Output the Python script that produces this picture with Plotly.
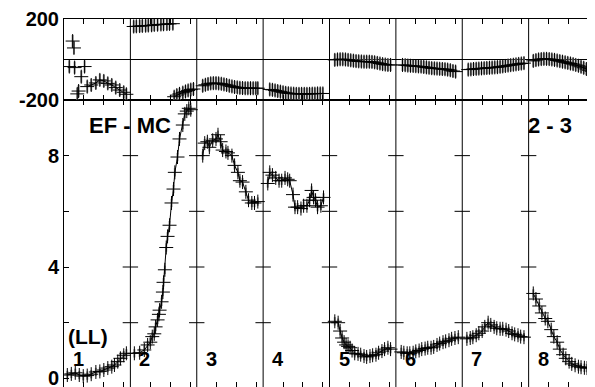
import plotly.graph_objects as go

# etiquetas de los bins y valores de los ejes
bin_labels = ['1', '2', '3', '4', '5', '6', '7', '8']
mag_ticks = [0, 2, 4, 6, 8]
mag_ticktext = ['0', '', '4', '', '8']
phase_ticks = [-200, 200]
phase_ticktext = ['-200', '200']
mass_ticks = [0.3, 0.6, 0.9]

# magnitud (panel inferior), posicion dentro de cada bin
mag_x_1 = [0.05, 0.11, 0.17, 0.23, 0.29, 0.35, 0.41, 0.48, 0.54, 0.60, 0.66, 0.72, 0.76, 0.81, 0.85, 0.90, 0.94]
mag_1 = [0.12, 0.16, 0.20, 0.12, 0.08, 0.10, 0.15, 0.23, 0.25, 0.30, 0.37, 0.42, 0.48, 0.60, 0.72, 0.83, 0.90]
mag_x_2 = [0.06, 0.14, 0.21, 0.26, 0.30, 0.33, 0.36, 0.38, 0.41, 0.43, 0.44, 0.47, 0.49, 0.50, 0.52, 0.54, 0.56,
           0.59, 0.62, 0.65, 0.67, 0.71, 0.74, 0.79, 0.82, 0.85, 0.88, 0.91]
mag_2 = [0.90, 0.92, 1.02, 1.20, 1.30, 1.50, 1.60, 1.85, 2.10, 2.30, 2.45, 2.75, 3.10, 3.45, 3.90, 4.70, 5.10,
         5.50, 6.30, 6.80, 7.40, 7.95, 8.60, 9.10, 9.50, 9.60, 9.70, 9.65]
mag_x_3 = [0.09, 0.12, 0.16, 0.19, 0.24, 0.29, 0.32, 0.36, 0.39, 0.44, 0.47, 0.53, 0.57, 0.62, 0.65, 0.69, 0.74,
           0.78, 0.83, 0.87, 0.92]
mag_3 = [8.00, 8.45, 8.50, 8.30, 8.55, 8.60, 8.75, 8.50, 8.20, 8.15, 8.10, 8.00, 7.65, 7.40, 7.10, 7.05, 6.70,
         6.40, 6.30, 6.30, 6.35]
mag_x_4 = [0.07, 0.10, 0.14, 0.19, 0.24, 0.28, 0.33, 0.37, 0.40, 0.45, 0.48, 0.52, 0.57, 0.61, 0.66, 0.70, 0.73,
           0.76, 0.79, 0.82, 0.87, 0.91]
mag_4 = [7.00, 7.40, 7.30, 7.20, 7.10, 7.10, 7.20, 7.15, 7.10, 6.60, 6.15, 6.15, 6.10, 6.20, 6.20, 6.40, 6.75,
         6.50, 6.40, 6.15, 6.20, 6.50]
mag_x_5 = [0.08, 0.13, 0.16, 0.19, 0.22, 0.25, 0.28, 0.31, 0.34, 0.38, 0.43, 0.47, 0.52, 0.56, 0.61, 0.65, 0.70,
           0.74, 0.79, 0.83, 0.88, 0.92]
mag_5 = [2.05, 2.00, 1.70, 1.45, 1.30, 1.20, 1.15, 1.10, 1.00, 0.90, 0.88, 0.85, 0.80, 0.77, 0.80, 0.83, 0.85,
         0.92, 0.98, 1.05, 1.10, 1.05]
mag_x_6 = [0.08, 0.12, 0.17, 0.21, 0.26, 0.30, 0.35, 0.39, 0.44, 0.48, 0.53, 0.57, 0.62, 0.66, 0.71, 0.75, 0.80,
           0.84, 0.89, 0.94]
mag_6 = [0.95, 0.92, 0.90, 0.90, 0.92, 0.97, 1.00, 1.05, 1.07, 1.10, 1.10, 1.13, 1.20, 1.25, 1.30, 1.33, 1.37,
         1.42, 1.45, 1.48]
mag_x_7 = [0.07, 0.12, 0.16, 0.21, 0.25, 0.30, 0.34, 0.39, 0.43, 0.48, 0.52, 0.57, 0.61, 0.66, 0.70, 0.75, 0.79,
           0.84, 0.88, 0.93]
mag_7 = [1.42, 1.45, 1.48, 1.55, 1.62, 1.70, 1.85, 2.00, 1.92, 1.85, 1.80, 1.78, 1.78, 1.75, 1.70, 1.62, 1.58,
         1.55, 1.50, 1.48]
mag_x_8 = [0.07, 0.11, 0.16, 0.20, 0.25, 0.29, 0.34, 0.38, 0.43, 0.47, 0.52, 0.56, 0.61, 0.65, 0.70, 0.75, 0.79,
           0.84, 0.88, 0.93]
mag_8 = [3.05, 2.85, 2.60, 2.35, 2.15, 2.05, 1.75, 1.50, 1.30, 1.05, 0.85, 0.72, 0.60, 0.52, 0.47, 0.42, 0.40,
         0.38, 0.37, 0.40]

# fase (panel superior), None corta la linea en el salto de fase
ph_x_1 = [0.35, 0.41, 0.48, 0.54, 0.60, 0.66, 0.72, 0.78, 0.84, 0.90, 0.94]
phase_1 = [-134, -126, -116, -101, -106, -118, -126, -139, -151, -162, -172]
stray_x_1 = [0.08, 0.13, 0.15, 0.16, 0.20, 0.22, 0.26, 0.31]
stray_1 = [-35, 91, 57, -40, -170, -156, -85, -35]
ph_x_2 = [0.05, 0.09, 0.14, 0.18, 0.23, 0.27, 0.32, 0.36, 0.41, 0.46, 0.50, 0.55, 0.59, 0.64, None,
          0.66, 0.70, 0.74, 0.79, 0.83, 0.87, 0.91, 0.95]
phase_2 = [163, 164, 165, 166, 167, 168, 169, 171, 172, 173, 174, 175, 176, 177, None,
           -184, -176, -170, -164, -158, -153, -149, -146]
ph_x_3 = [0.09, 0.13, 0.17, 0.21, 0.25, 0.29, 0.33, 0.37, 0.41, 0.45, 0.49, 0.53, 0.57, 0.61, 0.65, 0.69, 0.73,
          0.77, 0.81, 0.85, 0.89, 0.92]
phase_3 = [-130, -125, -121, -118, -117, -117, -118, -120, -123, -126, -130, -133, -136, -138, -140, -141, -142,
           -142, -142, -142, -142, -142]
ph_x_4 = [0.10, 0.14, 0.18, 0.22, 0.26, 0.30, 0.34, 0.38, 0.42, 0.46, 0.50, 0.54, 0.58, 0.62, 0.66, 0.70, 0.74,
          0.78, 0.82, 0.86, 0.90]
phase_4 = [-148, -150, -153, -156, -159, -162, -165, -167, -168, -169, -170, -170, -170, -170, -170, -170, -169,
           -169, -168, -168, -168]
ph_x_5 = [0.08, 0.12, 0.16, 0.20, 0.24, 0.28, 0.32, 0.36, 0.40, 0.44, 0.48, 0.52, 0.56, 0.60, 0.64, 0.68, 0.72,
          0.76, 0.80, 0.84, 0.88, 0.92]
phase_5 = [-2, 0, 1, 1, 0, -2, -4, -6, -8, -9, -10, -11, -11, -11, -12, -14, -17, -20, -23, -25, -27, -27]
ph_x_6 = [0.10, 0.14, 0.18, 0.22, 0.26, 0.30, 0.34, 0.38, 0.42, 0.46, 0.50, 0.54, 0.58, 0.62, 0.66, 0.70, 0.74,
          0.78, 0.82, 0.86, 0.90]
phase_6 = [-27, -28, -30, -31, -32, -33, -34, -35, -37, -39, -41, -43, -44, -45, -46, -47, -48, -50, -53, -57, -60]
ph_x_7 = [0.09, 0.13, 0.17, 0.21, 0.25, 0.29, 0.33, 0.37, 0.41, 0.45, 0.49, 0.53, 0.57, 0.61, 0.65, 0.69, 0.73,
          0.77, 0.81, 0.85, 0.89, 0.93]
phase_7 = [-50, -49, -47, -46, -45, -44, -43, -42, -41, -40, -39, -38, -36, -34, -32, -30, -28, -26, -24, -22,
           -20, -18]
ph_x_8 = [0.07, 0.11, 0.15, 0.19, 0.23, 0.27, 0.31, 0.35, 0.39, 0.43, 0.47, 0.51, 0.55, 0.59, 0.63, 0.67, 0.71,
          0.75, 0.79, 0.83, 0.87, 0.91, 0.95]
phase_8 = [-7, -3, 0, 2, 3, 3, 2, 0, -2, -5, -8, -11, -14, -17, -20, -23, -27, -31, -36, -41, -47, -53, -58]

mag_err = 0.15
phase_err = 30

mag_x = [mag_x_1, mag_x_2, mag_x_3, mag_x_4, mag_x_5, mag_x_6, mag_x_7, mag_x_8]
mags = [mag_1, mag_2, mag_3, mag_4, mag_5, mag_6, mag_7, mag_8]
ph_x = [ph_x_1, ph_x_2, ph_x_3, ph_x_4, ph_x_5, ph_x_6, ph_x_7, ph_x_8]
phases = [phase_1, phase_2, phase_3, phase_4, phase_5, phase_6, phase_7, phase_8]

FONT = 'Liberation Sans'
GRAY = '#8a8a8a'

fig = go.Figure()


def cruces(xs, ys, err, yaxis, modo):
    return go.Scatter(
        x=xs, y=ys, xaxis='x' if yaxis == 'y' else 'x2', yaxis=yaxis,
        mode=modo, showlegend=False, hoverinfo='skip',
        line=dict(color='black', width=1),
        marker=dict(symbol='cross-thin', size=10, line=dict(color='black', width=1)),
        error_y=dict(type='constant', value=err, color=GRAY, thickness=2, width=0),
    )


for i in range(8):
    xs = [i + v for v in mag_x[i]]
    fig.add_trace(cruces(xs, mags[i], mag_err, 'y', 'lines+markers'))
    xs = [None if v is None else i + v for v in ph_x[i]]
    fig.add_trace(cruces(xs, phases[i], phase_err, 'y2', 'lines+markers'))

fig.add_trace(cruces(stray_x_1, stray_1, phase_err, 'y2', 'markers'))

# marcas de los ejes sobre las lineas de separacion
sep_x = [k for k in range(1, 8) for t in mag_ticks[1:]]
sep_y = [t for k in range(1, 8) for t in mag_ticks[1:]]
fig.add_trace(go.Scatter(
    x=sep_x, y=sep_y, mode='markers', showlegend=False, hoverinfo='skip',
    marker=dict(symbol='line-ew', size=11, line=dict(color='black', width=1)),
))

for k in range(1, 8):
    fig.add_shape(type='line', xref='x', yref='paper', x0=k, x1=k, y0=0, y1=1,
                  line=dict(color='black', width=1))

for i, lab in enumerate(bin_labels):
    fig.add_annotation(x=i + 0.22, y=0.68, xref='x', yref='y', text='<b>' + lab + '</b>', showarrow=False,
                       font=dict(family=FONT, size=20, color='black'))

fig.add_annotation(x=0.36, y=1.52, xref='x', yref='y', text='<b>(LL)</b>', showarrow=False,
                   font=dict(family=FONT, size=21, color='black'))
fig.add_annotation(x=1.0, y=9.1, xref='x', yref='y', text='<b>EF - MC</b>', showarrow=False,
                   font=dict(family=FONT, size=22, color='black'))
fig.add_annotation(x=7.315, y=9.08, xref='x', yref='y', text='<b>2 - 3</b>', showarrow=False,
                   font=dict(family=FONT, size=22, color='black'))

tick_vals_x = [k + t for k in range(8) for t in mass_ticks]
eje_x = dict(range=[0, 8], showline=True, linecolor='black', linewidth=1, mirror='ticks',
             ticks='inside', ticklen=5, tickcolor='black', tickvals=tick_vals_x,
             showticklabels=False, showgrid=False, zeroline=False, automargin=False)

# la pagina deja 8 px de margen en el body: la figura mide 587x379
fig.update_layout(
    width=587, height=379,
    margin=dict(l=56, r=0, t=11, b=0, autoexpand=False),
    paper_bgcolor='white', plot_bgcolor='white',
    xaxis=dict(eje_x, anchor='y'),
    xaxis2=dict(eje_x, anchor='y2', matches='x'),
    yaxis=dict(domain=[0, 0.78], range=[-0.31, 10.0], tickvals=mag_ticks, ticktext=mag_ticktext,
               ticks='inside', ticklen=5, tickcolor='black', showline=True, linecolor='black',
               linewidth=1, mirror='ticks', showgrid=False, zeroline=False, automargin=False,
               ticklabeloverflow='allow',
               tickfont=dict(family=FONT, size=20, color='black', weight='bold')),
    yaxis2=dict(domain=[0.78, 1], range=[-200, 200], tickvals=phase_ticks, ticktext=phase_ticktext,
                ticks='', showline=True, linecolor='black', linewidth=1, mirror=True, automargin=False,
                ticklabeloverflow='allow',
                showgrid=False, zeroline=True, zerolinecolor='black', zerolinewidth=1,
                tickfont=dict(family=FONT, size=20, color='black', weight='bold')),
)

fig.write_html("out.html")
